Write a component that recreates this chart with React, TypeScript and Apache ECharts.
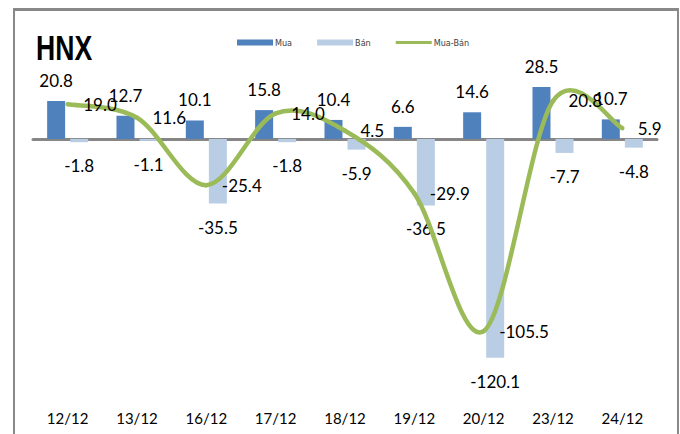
import React, { useEffect, useRef } from "react";
import * as echarts from "echarts";

const categories = ["12/12", "13/12", "16/12", "17/12", "18/12", "19/12", "20/12", "23/12", "24/12"];
const muaValues = [20.8, 12.7, 10.1, 15.8, 10.4, 6.6, 14.6, 28.5, 10.7];
const banValues = [-1.8, -1.1, -35.5, -1.8, -5.9, -36.5, -120.1, -7.7, -4.8];
const netValues = [19.0, 11.6, -25.4, 14.0, 4.5, -29.9, -105.5, 20.8, 5.9];
const seriesNames = ["Mua", "Bán", "Mua-Bán"];
const titleText = "HNX";

const numFont = "Lato, 'Open Sans', sans-serif";
const fmt = (p: any) => Number(Array.isArray(p.value) ? p.value[1] : p.value).toFixed(1);

export default function App() {
  const ref = useRef<HTMLDivElement>(null);
  useEffect(() => {
    document.body.style.margin = "0";
    if (!ref.current) return;
    const chart = echarts.init(ref.current, null, { renderer: "svg" });
    const n = netValues.length;
    const clampIdx = (k: number) => Math.max(0, Math.min(n - 1, k));
    chart.setOption({
      animation: false,
      backgroundColor: "#ffffff",
      legend: {
        left: 232,
        top: 33,
        itemWidth: 36,
        itemHeight: 6,
        itemGap: 25,
        textStyle: {
          fontFamily: "'Liberation Sans Narrow', 'DejaVu Sans Condensed', sans-serif",
          fontSize: 9,
          color: "#404040",
          padding: [0, 0, 0, -3],
        },
        data: [
          { name: seriesNames[0], icon: "rect" },
          { name: seriesNames[1], icon: "rect" },
          { name: seriesNames[2], icon: "path://M0,0 L36,0 L36,3 L0,3 Z", itemStyle: { color: "#9BBB59" } },
        ],
      },
      graphic: [
        { type: "rect", shape: { x: 13, y: 8, width: 666, height: 3 }, style: { fill: "#888888" } },
        { type: "rect", shape: { x: 13, y: 8, width: 2, height: 426 }, style: { fill: "#888888" } },
        { type: "rect", shape: { x: 677, y: 8, width: 2, height: 426 }, style: { fill: "#888888" } },
        {
          type: "text",
          x: 36,
          y: 31,
          scaleX: 0.76,
          style: {
            text: titleText,
            font: "bold 35px 'Liberation Sans', Arial, sans-serif",
            fill: "#000000",
            textVerticalAlign: "top",
          },
        },
      ],
      grid: { left: 33, right: 23, top: 66, bottom: 40, containLabel: false },
      xAxis: [
        {
          type: "category",
          data: categories,
          axisLine: { show: true, onZero: true, lineStyle: { color: "#868686", width: 3 } },
          axisTick: { show: false },
          axisLabel: { show: false },
          splitLine: { show: false },
        },
        {
          type: "category",
          data: categories,
          position: "bottom",
          axisLine: { show: false, onZero: false },
          axisTick: { show: false },
          axisLabel: { show: true, margin: 16, fontFamily: numFont, fontSize: 15, color: "#000000" },
          splitLine: { show: false },
        },
      ],
      yAxis: { type: "value", min: -140, max: 40, show: false, splitLine: { show: false } },
      series: [
        {
          name: seriesNames[0],
          type: "bar",
          data: muaValues,
          barWidth: 18,
          barGap: "28%",
          itemStyle: { color: "#4F81BD" },
          label: { show: true, position: "top", distance: 12, formatter: fmt, fontFamily: numFont, fontSize: 17, color: "#000000" },
        },
        {
          name: seriesNames[1],
          type: "bar",
          data: banValues,
          barWidth: 18,
          itemStyle: { color: "#B9CDE5" },
          label: { show: true, position: "bottom", distance: 15, formatter: fmt, fontFamily: numFont, fontSize: 17, color: "#000000" },
        },
        {
          type: "custom",
          data: netValues.map((v, i) => [i, v]),
          encode: { x: 0, y: 1 },
          z: 4,
          silent: true,
          renderItem: (params: any, api: any) => {
            const i = params.dataIndex;
            if (i >= n - 1) return { type: "group", children: [] };
            const pt = (k: number) => {
              const c = clampIdx(k);
              return api.coord([c, netValues[c]]);
            };
            const p0 = pt(i - 1);
            const p1 = pt(i);
            const p2 = pt(i + 1);
            const p3 = pt(i + 2);
            return {
              type: "bezierCurve",
              shape: {
                x1: p1[0],
                y1: p1[1],
                x2: p2[0],
                y2: p2[1],
                cpx1: p1[0] + (p2[0] - p0[0]) / 6,
                cpy1: p1[1] + (p2[1] - p0[1]) / 6,
                cpx2: p2[0] - (p3[0] - p1[0]) / 6,
                cpy2: p2[1] - (p3[1] - p1[1]) / 6,
              },
              style: { stroke: "#9BBB59", lineWidth: 4.5, fill: "none", lineCap: "round" },
            };
          },
        },
        {
          name: seriesNames[2],
          type: "line",
          data: netValues,
          symbol: "circle",
          symbolSize: 1,
          showSymbol: true,
          lineStyle: { color: "#9BBB59", width: 0, opacity: 0 },
          itemStyle: { color: "#9BBB59" },
          z: 5,
          label: { show: true, position: "right", distance: 15, formatter: fmt, fontFamily: numFont, fontSize: 17, color: "#000000" },
        },
      ],
    });
    return () => chart.dispose();
  }, []);
  return <div ref={ref} style={{ width: 680, height: 434 }} />;
}
